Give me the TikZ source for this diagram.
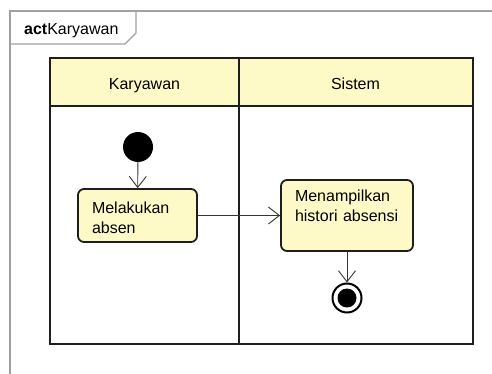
\documentclass[tikz,border=0pt]{standalone}
\usepackage{fontspec}
\setmainfont{Liberation Sans}
\usetikzlibrary{arrows.meta}
\definecolor{laneyellow}{RGB}{253,250,200}
\definecolor{framegray}{RGB}{160,160,160}
\definecolor{inkdark}{RGB}{30,30,30}
\def\actfont{\fontsize{16}{20.5}\selectfont}
\tikzset{
	lane/.style={draw=inkdark, line width=1.8pt},
	lanehead/.style={lane, fill=laneyellow},
	lanetitle/.style={anchor=base, font=\actfont},
	actbox/.style={draw=inkdark, fill=laneyellow, line width=1.8pt, rounded corners=6pt, inner sep=0pt,
		font=\actfont, align=left},
	flow/.style={draw=inkdark!90, line width=0.9pt, -{Straight Barb[length=11pt,width=17pt]}},
	initnode/.style={circle, fill=black, minimum size=30pt, inner sep=0pt},
	finalnode/.style={circle, draw=black, fill=white, line width=2pt, minimum size=29pt, inner sep=0pt,
		path picture={\fill[black] (path picture bounding box.center) circle (9.5pt);}}
}

\begin{document}
\begin{tikzpicture}[x=1pt, y=-1pt]
		%%%%% START %%%%%
		\useasboundingbox (0, 0) rectangle (492, 374);
		
		\draw[framegray, line width=1.2pt] (10, 380) -- (10, 11) -- (500, 11);
		\draw[framegray, line width=1.2pt] (10, 44) -- (125, 44) -- (136, 33) -- (136, 11);
		\node[anchor=base west, inner sep=0pt, font=\actfont] (frameLabel) at (24, 35) {\textbf{act}Karyawan};
		
		\draw[lanehead] (50, 58) rectangle (473, 106);
		\draw[lane] (50, 58) rectangle (473, 344);
		\draw[lane] (239, 58) -- (239, 344);
		\node[lanetitle] (laneKaryawan) at (144.5, 89.5) {Karyawan};
		\node[lanetitle] (laneSistem) at (355.5, 89.5) {Sistem};
		
		\node[initnode] (start) at (138, 147) {};
		\node[actbox, text width=91pt, text height=24pt, text depth=29pt, minimum width=119pt] (absen)
			at (137.5, 215.5) {Melakukan\\absen};
		\node[actbox, text width=104pt, text height=21pt, text depth=50pt, minimum width=132pt] (histori)
			at (347, 215.5) {Menampilkan\\histori absensi};
		\node[finalnode] (finish) at (347, 298) {};
		
		\draw[flow] (start) -- (absen);
		\draw[flow] (absen) -- (histori);
		\draw[flow] (histori) -- (finish);
		
		%%%%% END %%%%%
	\end{tikzpicture}
\end{document}
